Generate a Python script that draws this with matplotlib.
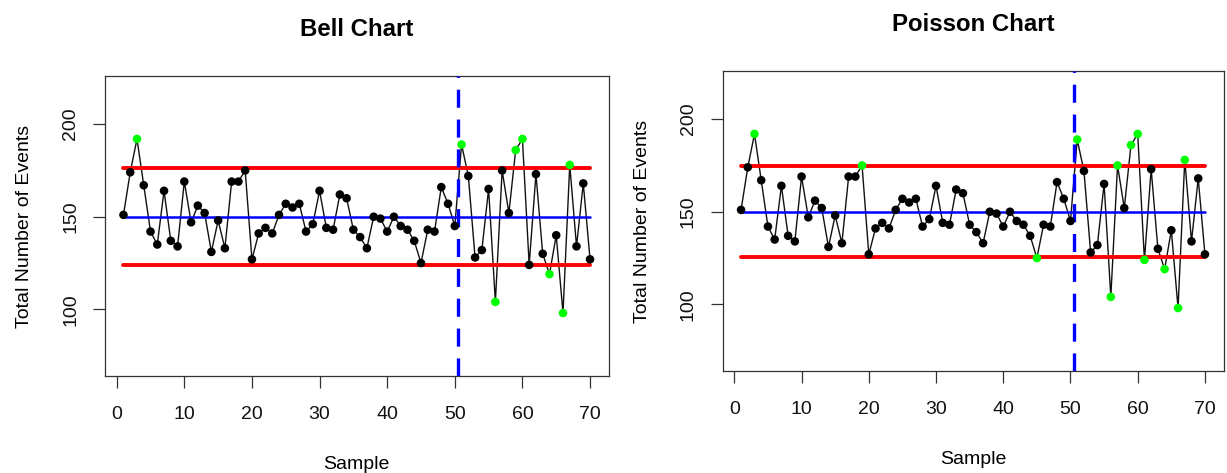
import matplotlib
matplotlib.use("Agg")
import matplotlib.pyplot as plt
import numpy as np

plt.rcParams["font.family"] = ["Liberation Sans", "DejaVu Sans"]
plt.rcParams["lines.scale_dashes"] = False

# Total number of events recorded per sample
sample = np.arange(1, 71)
events = [151, 174, 192, 167, 142, 135, 164, 137, 134, 169,
          147, 156, 152, 131, 148, 133, 169, 169, 175, 127,
          141, 144, 141, 151, 157, 155, 157, 142, 146, 164,
          144, 143, 162, 160, 143, 139, 133, 150, 149, 142,
          150, 145, 143, 137, 125, 143, 142, 166, 157, 145,
          189, 172, 128, 132, 165, 104, 175, 152, 186, 192,
          124, 173, 130, 119, 140, 98, 178, 134, 168, 127]

# Control limits (centre, upper, lower) for each chart
bell_limits = (150.0, 176.1, 123.9)
poisson_limits = (150.0, 150 + 2 * np.sqrt(150), 150 - 2 * np.sqrt(150))
change_point = 50.5

titles = ["Bell Chart", "Poisson Chart"]
x_ticks = [0, 10, 20, 30, 40, 50, 60, 70]
y_ticks = [100, 150, 200]

W, H = 1227, 473
fig = plt.figure(figsize=(W / 100, H / 100), dpi=100)

# panel boxes in pixels: left, right, top, bottom
boxes = [(104.8, 608.7, 76, 376), (722.5, 1223.5, 71, 371)]

FS = 14
for (l, r, t, b), title, (centre, ucl, lcl) in zip(
        boxes, titles, [bell_limits, poisson_limits]):
    ax = fig.add_axes([l / W, (H - b) / H, (r - l) / W, (b - t) / H])
    y = np.asarray(events, dtype=float)
    out = (y > ucl) | (y < lcl)
    colors = np.where(out, "#00FF00", "black")

    ax.plot(sample, y, color="#111111", lw=1.0, zorder=2)
    ax.plot([sample[0], sample[-1]], [ucl, ucl], color="#FF0000", lw=2.8,
            solid_capstyle="round", zorder=3)
    ax.plot([sample[0], sample[-1]], [lcl, lcl], color="#FF0000", lw=2.8,
            solid_capstyle="round", zorder=3)
    ax.plot([sample[0], sample[-1]], [centre, centre], color="#0000FF", lw=1.8,
            solid_capstyle="round", zorder=3)
    ax.axvline(change_point, color="#0000FF", lw=2.4, dashes=(13, 8.5), zorder=3)
    ax.scatter(sample, y, c=colors, s=38, linewidths=0, zorder=4)

    ax.set_xlim(1 - 0.04 * 69, 70 + 0.04 * 69)
    ax.set_ylim(64, 226)
    ax.set_xticks(x_ticks)
    ax.set_yticks(y_ticks)
    for s in ax.spines.values():
        s.set_color("#333333")
        s.set_linewidth(0.9)
    ax.tick_params(axis="both", direction="out", length=8.5, width=0.9,
                   color="#333333", labelsize=FS, labelcolor="#111111")
    ax.tick_params(axis="x", pad=13)
    ax.tick_params(axis="y", pad=10, labelrotation=90)
    for lab in ax.get_yticklabels():
        lab.set_va("center")

    width_px = r - l
    height_px = b - t
    ax.set_title(title, fontsize=17.3, fontweight="bold", y=1 + 40.3 / height_px, pad=0)
    ax.set_xlabel("Sample", fontsize=FS)
    ax.xaxis.label.set_va("baseline")
    ax.xaxis.set_label_coords(0.5, -93 / height_px)
    ax.set_ylabel("Total Number of Events", fontsize=FS)
    ax.yaxis.label.set_va("baseline")
    ax.yaxis.set_label_coords(-75.5 / width_px, 0.5)

fig.savefig("out.png", dpi=100, facecolor="white")
